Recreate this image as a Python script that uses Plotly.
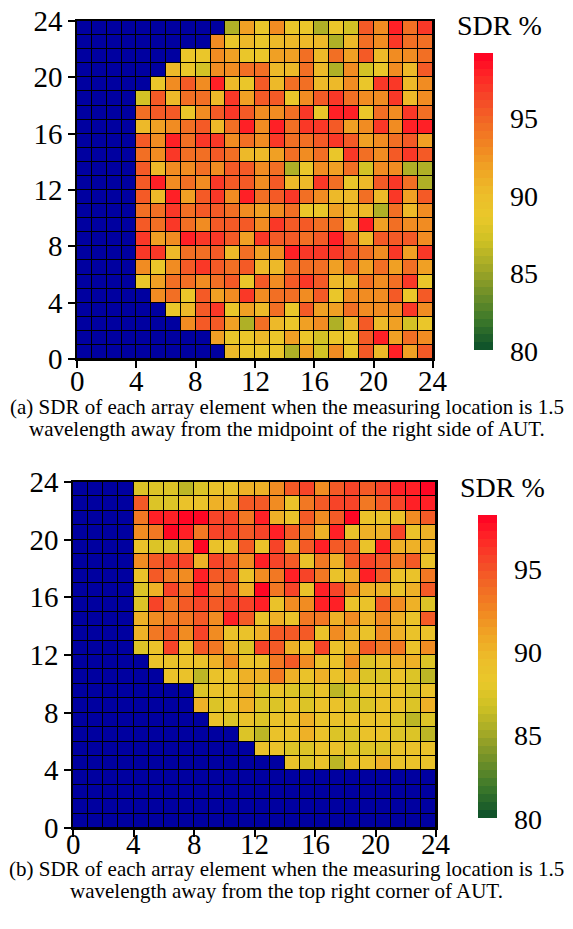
import plotly.graph_objects as go

N = None

# ---------------- data ----------------
col_labels = list(range(24))          # element column index (x)
row_labels = list(range(23, -1, -1))  # element row index (y), listed top row first
tick_vals = [0, 4, 8, 12, 16, 20, 24]
cbar_ticks = [80, 85, 90, 95]

# (a) measuring location 1.5 wavelength from midpoint of right side; None = blue (not evaluated)
sdr_a = [
    [N]*10 + [86, 92, 89, 93, 89, 89, 86, 89, 87.5, 95.5, 93, 98, 94.5, 97],
    [N]*9 + [93, 89, 90.5, 89, 90.5, 90.5, 90.5, 90.5, 86, 90.5, 94.5, 93, 97, 94.5, 94.5],
    [N]*7 + [89, 89, 93, 92, 89, 89, 92, 92, 94.5, 90.5, 94.5, 92, 95.5, 90.5, 93, 93, 94.5],
    [N]*6 + [90.5, 89, 87.5, 93, 93, 94.5, 94.5, 90.5, 90.5, 94.5, 90.5, 86, 93, 87.5, 89, 93, 90.5, 95.5],
    [N]*5 + [89, 93, 95.5, 93, 98, 90.5, 89, 95.5, 90.5, 94.5, 94.5, 90.5, 90.5, 93, 89, 97, 97, 90.5, 93],
    [N]*4 + [87.5, 95.5, 90.5, 94.5, 94.5, 90.5, 97, 92, 95.5, 95.5, 89, 93, 95.5, 97, 94.5, 93, 93, 97, 90.5, 93],
    [N]*4 + [94.5, 95.5, 95.5, 89, 93, 95.5, 97, 95.5, 93, 93, 94.5, 97, 89, 98, 98, 89, 94.5, 93, 97, 94.5],
    [N]*4 + [90.5, 92, 93, 94.5, 95.5, 90.5, 94.5, 98, 93, 98, 94.5, 97, 97, 95.5, 92, 93, 97, 93, 98, 98],
    [N]*4 + [95.5, 93, 98, 94.5, 97, 97, 93, 94.5, 93, 97, 94.5, 94.5, 95.5, 97, 95.5, 92, 93, 94.5, 95.5, 92],
    [N]*4 + [94.5, 93, 97, 94.5, 94.5, 95.5, 94.5, 90.5, 90.5, 92, 94.5, 93, 94.5, 89, 97, 94.5, 93, 95.5, 97, 95.5],
    [N]*4 + [95.5, 90.5, 93, 93, 94.5, 93, 95.5, 95.5, 93, 94.5, 86, 89, 93, 92, 94.5, 87.5, 93, 93, 86, 86],
    [N]*4 + [95.5, 98, 93, 94.5, 93, 97, 95.5, 95.5, 93, 95.5, 90.5, 90.5, 97, 94.5, 89, 90.5, 95.5, 97, 94.5, 86],
    [N]*4 + [95.5, 90.5, 98, 92, 95.5, 97, 93, 98, 94.5, 95.5, 97, 94.5, 93, 90.5, 90.5, 94.5, 90.5, 97, 92, 95.5],
    [N]*4 + [94.5, 94.5, 97, 94.5, 95.5, 95.5, 94.5, 93, 92, 93, 94.5, 89, 89, 92, 90.5, 90.5, 86, 94.5, 90.5, 93],
    [N]*4 + [95.5, 94.5, 97, 94.5, 93, 95.5, 95.5, 95.5, 93, 97, 95.5, 95.5, 94.5, 94.5, 90.5, 98, 92, 94.5, 93, 93],
    [N]*4 + [97, 92, 93, 98, 97, 97, 95.5, 92, 97, 95.5, 95.5, 94.5, 95.5, 98, 94.5, 90.5, 95.5, 95.5, 95.5, 93],
    [N]*4 + [97, 97, 90.5, 94.5, 94.5, 95.5, 90.5, 94.5, 92, 93, 98, 97, 97, 97, 95.5, 94.5, 93, 97, 92, 97],
    [N]*4 + [93, 89, 93, 95.5, 97, 95.5, 94.5, 95.5, 90.5, 90.5, 94.5, 94.5, 94.5, 92, 94.5, 92, 94.5, 92, 94.5, 92],
    [N]*4 + [89, 92, 94.5, 94.5, 93, 94.5, 95.5, 89, 95.5, 93, 95.5, 97, 95.5, 90.5, 90.5, 94.5, 93, 94.5, 97, 89],
    [N]*5 + [93, 94.5, 89, 95.5, 92, 93, 97, 93, 94.5, 94.5, 93, 95.5, 89, 93, 93, 93, 95.5, 89, 95.5],
    [N]*6 + [89, 90.5, 95.5, 97, 89, 92, 90.5, 94.5, 89, 95.5, 92, 92, 94.5, 93, 93, 93, 97, 93],
    [N]*7 + [93, 95.5, 95.5, 92, 86, 94.5, 90.5, 89, 92, 93, 86, 90.5, 95.5, 90.5, 92, 87.5, 89],
    [N]*9 + [92, 89, 89, 90.5, 89, 92, 89, 87.5, 89, 89, 95.5, 98, 92, 94.5, 93],
    [N]*10 + [90.5, 89, 89, 89, 86, 92, 87.5, 93, 89, 95.5, 90.5, 98, 92, 95.5],
]

# (b) measuring location 1.5 wavelength from top right corner
sdr_b = [
    [N]*4 + [87.5, 87.5, 87.5, 86, 87.5, 89, 89, 90.5, 90.5, 92, 94.5, 95.5, 92, 94.5, 95.5, 94.5, 95.5, 97, 97, 98],
    [N]*4 + [94.5, 87.5, 87.5, 89, 89, 90.5, 90.5, 94.5, 94.5, 92, 89, 93, 94.5, 95.5, 95.5, 93, 94.5, 95.5, 97, 97],
    [N]*4 + [93, 97, 97, 98, 98, 95.5, 95.5, 93, 97, 90.5, 89, 94.5, 92, 94.5, 98, 89, 89, 89, 92, 94.5],
    [N]*4 + [92, 93, 98, 97, 93, 95.5, 95.5, 94.5, 95.5, 97, 94.5, 93, 90.5, 97, 89, 90.5, 90.5, 95.5, 89, 90.5],
    [N]*4 + [89, 87.5, 87.5, 90.5, 98, 89, 89, 94.5, 89, 95.5, 90.5, 94.5, 97, 94.5, 94.5, 89, 97, 90.5, 90.5, 90.5],
    [N]*4 + [92, 94.5, 95.5, 95.5, 90.5, 95.5, 94.5, 92, 97, 95.5, 94.5, 89, 93, 90.5, 94.5, 95.5, 94.5, 93, 94.5, 89],
    [N]*4 + [89, 94.5, 93, 92, 97, 94.5, 94.5, 89, 92, 93, 97, 95.5, 93, 89, 90.5, 97, 94.5, 89, 89, 93],
    [N]*4 + [87.5, 90.5, 95.5, 93, 97, 93, 94.5, 90.5, 98, 93, 95.5, 89, 97, 95.5, 92, 90.5, 90.5, 89, 90.5, 94.5],
    [N]*4 + [87.5, 95.5, 93, 94.5, 95.5, 94.5, 95.5, 95.5, 97, 89, 92, 92, 97, 97, 89, 89, 94.5, 92, 90.5, 87.5],
    [N]*4 + [90.5, 92, 93, 93, 94.5, 92, 97, 94.5, 89, 90.5, 89, 93, 93, 90.5, 92, 90.5, 92, 90.5, 89, 94.5],
    [N]*4 + [90.5, 93, 94.5, 92, 95.5, 92, 89, 89, 90.5, 94.5, 94.5, 94.5, 89, 92, 90.5, 89, 92, 90.5, 89, 89],
    [N]*4 + [87.5, 89, 95.5, 89, 94.5, 93, 90.5, 87.5, 95.5, 94.5, 90.5, 89, 95.5, 89, 90.5, 94.5, 93, 93, 89, 92],
    [N]*5 + [89, 89, 89, 89, 90.5, 92, 89, 89, 93, 94.5, 92, 89, 89, 92, 87.5, 89, 90.5, 90.5, 87.5],
    [N]*6 + [89, 89, 86, 89, 89, 90.5, 90.5, 93, 90.5, 89, 90.5, 89, 90.5, 87.5, 87.5, 89, 87.5, 86],
    [N]*8 + [87.5, 89, 89, 90.5, 87.5, 89, 87.5, 87.5, 89, 86, 87.5, 89, 89, 89, 87.5, 89],
    [N]*8 + [90.5, 87.5, 89, 90.5, 87.5, 87.5, 89, 87.5, 89, 89, 87.5, 87.5, 89, 89, 87.5, 90.5],
    [N]*9 + [89, 87.5, 89, 87.5, 89, 89, 90.5, 89, 89, 89, 89, 89, 87.5, 86, 87.5],
    [N]*11 + [87.5, 86, 89, 89, 90.5, 89, 87.5, 87.5, 89, 89, 87.5, 87.5, 86],
    [N]*12 + [89, 89, 87.5, 87.5, 89, 89, 87.5, 87.5, 87.5, 89, 89, 89],
    [N]*14 + [89, 87.5, 89, 86, 89, 89, 90.5, 89, 89, 89],
    [N]*24,
    [N]*24,
    [N]*24,
    [N]*24,
]

captions_a = ["(a) SDR of each array element when the measuring location is 1.5",
              "wavelength away from the midpoint of the right side of AUT."]
captions_b = ["(b) SDR of each array element when the measuring location is 1.5",
              "wavelength away from the top right corner of AUT."]

# ---------------- styling ----------------
W, H = 573, 929
FONT = "Liberation Serif, Times New Roman, serif"
BLUE = "#0000a0"
ZLOW = 79.0   # value used to paint the not-evaluated (blue) elements, below the colour bar range

anchors = [(80, "#0b4f2a"), (82, "#3e7a2a"), (84, "#7d9528"), (85.5, "#a9ac26"),
           (87, "#cfc124"), (88.5, "#e9c82a"), (90, "#ecbd2a"), (91.5, "#f0a524"),
           (93, "#f18722"), (94.5, "#f26a24"), (96, "#f54a28"), (97.5, "#ff2626"),
           (99, "#ff0024")]


def hex2rgb(h):
    h = h.lstrip("#")
    return tuple(int(h[i:i + 2], 16) for i in (0, 2, 4))


def interp(f):
    v = 80 + f * 19
    for (v0, c0), (v1, c1) in zip(anchors[:-1], anchors[1:]):
        if v <= v1:
            t = (v - v0) / (v1 - v0)
            a, b = hex2rgb(c0), hex2rgb(c1)
            return "rgb(%d,%d,%d)" % tuple(round(a[i] + (b[i] - a[i]) * t) for i in range(3))
    return "rgb(%d,%d,%d)" % hex2rgb(anchors[-1][1])


def stepped(n=38, start=0.0):
    cs = []
    span = 1.0 - start
    for k in range(n):
        c = interp((k + 0.5) / n)
        lo = round(start + span * k / n, 6)
        hi = round(start + span * (k + 1) / n, 6)
        cs.append([lo, c])
        cs.append([hi, c])
    cs[-1][0] = 1.0
    if start == 0.0:
        cs[0][0] = 0.0
    return cs


CS_BAR = stepped()

x_centers = [c + 0.5 for c in col_labels]
y_centers = [r + 0.5 for r in row_labels]


def px_x(p):
    return p / W


def px_y(p):
    return 1 - p / H


panels = [
    dict(data=sdr_a, xd=(77, 433), yd=(21, 359), zmax=99.2, cb=(474, 53, 350), cblab=508,
         title=(499, 25), caps=captions_a, capy=(407, 429), xlab_y=381),
    dict(data=sdr_b, xd=(73, 436), yd=(482, 828), zmax=98.2, cb=(478, 515, 818), cblab=512,
         title=(503, 487), caps=captions_b, capy=(869, 891), xlab_y=844),
]

fig = go.Figure()
annotations = []
for i, p in enumerate(panels):
    sfx = "" if i == 0 else str(i + 1)
    xa, ya = "x" + sfx, "y" + sfx
    zmax = p["zmax"]
    f80 = round((80 - ZLOW) / (zmax - ZLOW), 6)
    cs_cells = [[0.0, BLUE], [round(f80 - 0.001, 6), BLUE]] + stepped(start=f80)
    z = [[ZLOW if v is None else v for v in row] for row in p["data"]]
    fig.add_trace(go.Heatmap(x=x_centers, y=y_centers, z=z, xaxis=xa, yaxis=ya,
                             colorscale=cs_cells, zmin=ZLOW, zmax=zmax, showscale=False,
                             xgap=1, ygap=1, hoverinfo="skip"))
    cbx, cbt, cbb = p["cb"]
    fig.add_trace(go.Scatter(x=[None], y=[None], mode="markers", xaxis=xa, yaxis=ya,
                             hoverinfo="skip", showlegend=False,
                             marker=dict(color=[80], cmin=80, cmax=zmax, colorscale=CS_BAR,
                                         showscale=True,
                                         colorbar=dict(x=px_x(cbx), xanchor="left", thickness=19,
                                                       thicknessmode="pixels",
                                                       len=(cbb - cbt) / H, lenmode="fraction",
                                                       y=px_y((cbt + cbb) / 2), yanchor="middle",
                                                       tickvals=cbar_ticks, ticks="",
                                                       showticklabels=False,
                                                       outlinewidth=0, xpad=0, ypad=0))))
    # colour-bar tick labels placed at their value positions along the bar
    for v in cbar_ticks:
        ypix = cbb - (v - 80) / (zmax - 80) * (cbb - cbt)
        annotations.append(dict(text=str(v), x=px_x(p["cblab"]), y=px_y(ypix + 1),
                                xref="paper", yref="paper", showarrow=False,
                                xanchor="left", yanchor="middle",
                                font=dict(family=FONT, size=28, color="black")))
    # x tick labels placed at the tick values of the x axis
    for t in tick_vals:
        annotations.append(dict(text=str(t), x=t, xref=xa, y=px_y(p["xlab_y"]), yref="paper",
                                showarrow=False, xanchor="center", yanchor="middle",
                                font=dict(family=FONT, size=29, color="black")))
    axis_common = dict(range=[0, 24], tickvals=tick_vals, ticks="outside", ticklen=7,
                       tickwidth=1.5, tickcolor="black", showline=True, linecolor="black",
                       linewidth=1.5, mirror=True, showgrid=False, zeroline=False,
                       tickfont=dict(family=FONT, size=29, color="black"), fixedrange=True)
    fig.update_layout(**{
        "xaxis" + sfx: dict(domain=[px_x(p["xd"][0]), px_x(p["xd"][1])], anchor=ya,
                            showticklabels=False, **axis_common),
        "yaxis" + sfx: dict(domain=[px_y(p["yd"][1]), px_y(p["yd"][0])], anchor=xa,
                            **axis_common),
    })
    tx, ty = p["title"]
    annotations.append(dict(text="SDR %", x=px_x(tx), y=px_y(ty), xref="paper", yref="paper",
                            showarrow=False, xanchor="center", yanchor="middle",
                            font=dict(family=FONT, size=28, color="black")))
    for cap, cy in zip(p["caps"], p["capy"]):
        annotations.append(dict(text=cap, x=0.5, y=px_y(cy), xref="paper", yref="paper",
                                showarrow=False, xanchor="center", yanchor="middle",
                                font=dict(family=FONT, size=21, color="black")))

fig.update_layout(width=W, height=H,
                  margin=dict(l=0, r=0, t=0, b=0, autoexpand=False),
                  paper_bgcolor="white", plot_bgcolor="black",
                  annotations=annotations, showlegend=False)

fig.write_html("out.html")
